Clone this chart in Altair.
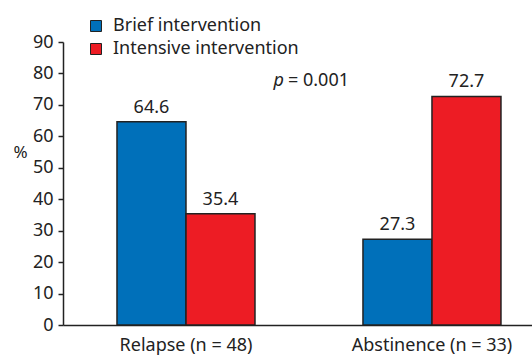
import altair as alt
import pandas as pd

# Outcome categories and the share of patients (%) in each arm
outcomes = ["Relapse (n = 48)", "Abstinence (n = 33)"]
arms = ["Brief intervention", "Intensive intervention"]
brief_pct = [64.6, 27.3]
intensive_pct = [35.4, 72.7]
y_ticks = [0, 10, 20, 30, 40, 50, 60, 70, 80, 90]

rows = []
for i, outcome in enumerate(outcomes):
    rows.append({"outcome": outcome, "arm": arms[0], "pct": brief_pct[i]})
    rows.append({"outcome": outcome, "arm": arms[1], "pct": intensive_pct[i]})
df = pd.DataFrame(rows)

FONT = "Noto Sans"
INK = "#222222"

x_scale = alt.Scale(paddingInner=0.439, paddingOuter=0.1728, align=0.635)
y_scale = alt.Scale(domain=[0, 90])

x_axis = alt.Axis(
    labelAngle=0,
    ticks=False,
    labelPadding=11,
    labelFontSize=18,
    labelFont=FONT,
    labelColor=INK,
    labelLimit=0,
    domainColor=INK,
    domainWidth=1.5,
)
y_axis = alt.Axis(
    values=y_ticks,
    labelOverlap=False,
    labelBound=False,
    labelFlush=False,
    grid=False,
    title="%",
    titleAngle=0,
    titleX=-43,
    titleY=110,
    titleAlign="center",
    titleBaseline="middle",
    titleFont=FONT,
    titleFontSize=17,
    titleFontWeight="normal",
    titleColor=INK,
    labelFont=FONT,
    labelFontSize=18,
    labelColor=INK,
    labelPadding=5,
    tickSize=5,
    tickColor=INK,
    tickWidth=1.5,
    domainColor=INK,
    domainWidth=1.5,
)

x_enc = alt.X("outcome:N", sort=outcomes, title=None, scale=x_scale, axis=x_axis)
xoff_enc = alt.XOffset("arm:N", sort=arms, scale=alt.Scale(paddingInner=0, paddingOuter=0))
y_enc = alt.Y("pct:Q", title="%", scale=y_scale, axis=y_axis)

bars = alt.Chart(df).mark_bar(stroke=INK, strokeWidth=1.5).encode(
    x=x_enc,
    xOffset=xoff_enc,
    y=y_enc,
    color=alt.Color(
        "arm:N",
        sort=arms,
        scale=alt.Scale(domain=arms, range=["#0070BA", "#ED1C24"]),
        legend=alt.Legend(
            title=None,
            orient="none",
            legendX=24,
            legendY=-25,
            padding=0,
            symbolType="square",
            symbolSize=121,
            symbolStrokeColor=INK,
            symbolStrokeWidth=1,
            symbolOpacity=1,
            labelFont=FONT,
            labelFontSize=18,
            labelColor=INK,
            labelOffset=8,
            labelLimit=0,
            rowPadding=5,
        ),
    ),
)

# Value labels above each bar
labels = alt.Chart(df).mark_text(
    font=FONT, fontSize=18, color=INK, baseline="alphabetic", dy=-9
).encode(
    x=x_enc,
    xOffset=xoff_enc,
    y=y_enc,
    text=alt.Text("pct:Q", format=".1f"),
)

# Significance note: italic "p" followed by the value
p_italic = alt.Chart(df.head(1)).mark_text(
    font=FONT, fontSize=18, fontStyle="italic", color=INK, align="right", baseline="middle"
).encode(x=alt.value(221), y=alt.value(39), text=alt.value("p"))
p_value = alt.Chart(df.head(1)).mark_text(
    font=FONT, fontSize=18, color=INK, align="left", baseline="middle"
).encode(x=alt.value(225), y=alt.value(39), text=alt.value("= 0.001"))

chart = (
    alt.layer(bars, labels, p_italic, p_value)
    .properties(
        width=469,
        height=283,
        autosize=alt.AutoSizeParams(type="none"),
        padding={"left": 63, "top": 42, "right": 0, "bottom": 32},
        view=alt.ViewBackground(stroke="transparent", strokeWidth=0),
    )
    .configure_view(stroke="transparent", strokeWidth=0, strokeOpacity=0)
    .configure(font=FONT)
)

chart.save("out.html", embed_options={"renderer": "svg", "actions": False})
